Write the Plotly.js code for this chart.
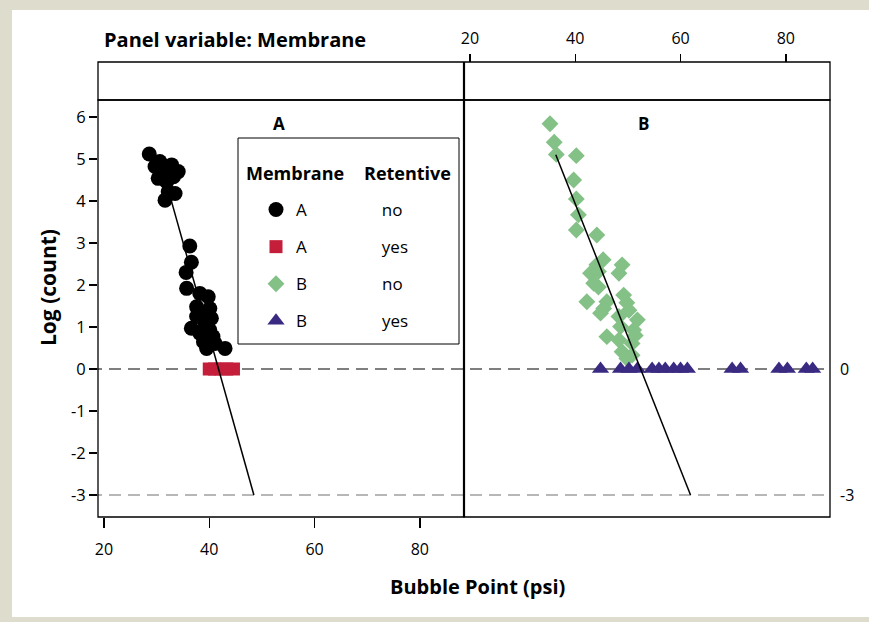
<!DOCTYPE html>
<html>
<head>
<meta charset="utf-8">
<script src="https://cdn.plot.ly/plotly-3.0.1.min.js"></script>
<style>html,body{margin:0;padding:0;background:#dedccd;}</style>
</head>
<body>
<div id="chart" style="width:869px;height:622px;"></div>
<script>
// ---- data ----
// Membrane A, Retentive = no
const aNoX = [28.6,30.6,32.85,34.1,29.7,31.3,30.3,33.2,31.9,33.5,31.6,32.2,
              36.3,36.6,35.6,35.7,38.2,39.8,37.6,40.1,38.5,40.4,37.6,39.2,36.6,40.1,38.2,40.7,39.5,43.0,41.1,38.9];
const aNoY = [5.12,4.94,4.86,4.70,4.82,4.70,4.54,4.58,4.46,4.18,4.02,4.22,
              2.93,2.54,2.30,1.92,1.80,1.72,1.48,1.44,1.33,1.21,1.25,1.09,0.97,0.93,0.85,0.77,0.49,0.49,0.61,0.65];
// Membrane A, Retentive = yes
const aYesX = [40.0,41.0,42.2,43.3,44.6];
const aYesY = [0,0,0,0,0];
// Membrane B, Retentive = no
const bNoX = [35.2,36.0,36.4,40.2,39.7,40.2,40.6,40.2,44.1,45.3,44.1,48.9,42.9,48.3,44.4,43.5,44.4,49.2,
              42.2,46.0,49.8,45.4,44.8,50.2,48.3,51.8,48.6,51.1,51.4,46.0,48.3,50.8,48.9,50.8,49.8];
const bNoY = [5.84,5.40,5.11,5.08,4.50,4.05,3.67,3.31,3.19,2.60,2.48,2.48,2.28,2.28,2.32,2.04,1.95,1.76,
              1.60,1.60,1.58,1.44,1.33,1.40,1.25,1.17,1.01,0.93,0.80,0.77,0.69,0.61,0.41,0.33,0.25];
// Membrane B, Retentive = yes
const bYesX = [44.8,48.6,50.2,51.8,54.6,55.9,57.1,58.7,60.0,61.3,69.8,71.4,78.7,80.3,83.9,85.1];
const bYesY = [0,0,0,0,0,0,0,0,0,0,0,0,0,0,0,0];
// fitted lines
const fitAX = [32.85,48.48];
const fitAY = [3.98,-3];
const fitBX = [36.3,61.9];
const fitBY = [5.1,-3];
// axis ticks
const xTicks = [20,40,60,80];
const xTickText = ['20','40','60','80'];
const yTicks = [-3,-2,-1,0,1,2,3,4,5,6];
const yTickText = ['-3','-2','-1','0','1','2','3','4','5','6'];
const refLines = [0,-3];
const refLabels = ['0','-3'];

// ---- layout helpers (pixel -> paper) ----
const L = 98, R = 830, T = 62, B = 517;
const W = 869, H = 622;
const px = x => (x - L) / (R - L);
const py = y => (B - y) / (B - T);
const stripBottom = py(100);

const FONT = '"Open Sans", "DejaVu Sans", sans-serif';
const pad = n => '\u00A0'.repeat(n);

const traces = [
  {x: aNoX, y: aNoY, xaxis:'x', yaxis:'y', type:'scatter', mode:'markers',
   name: 'A' + pad(17) + 'no', legendgroup:'g1',
   marker:{symbol:'circle', size:15, color:'#000000'}},
  {x: aYesX, y: aYesY, xaxis:'x', yaxis:'y', type:'scatter', mode:'markers',
   name: 'A' + pad(17) + 'yes', legendgroup:'g2',
   marker:{symbol:'square', size:13, color:'#c41e3a'}},
  {x: bNoX, y: bNoY, xaxis:'x2', yaxis:'y', type:'scatter', mode:'markers',
   name: 'B' + pad(17) + 'no', legendgroup:'g3',
   marker:{symbol:'diamond', size:13, color:'#84c187'}},
  {x: bYesX, y: bYesY, xaxis:'x2', yaxis:'y', type:'scatter', mode:'markers',
   name: 'B' + pad(17) + 'yes', legendgroup:'g4',
   marker:{symbol:'triangle-up', size:15, color:'#3a2a82'}},
  {x: fitAX, y: fitAY, xaxis:'x', yaxis:'y', type:'scatter', mode:'lines',
   showlegend:false, line:{color:'#000000', width:1.5}},
  {x: fitBX, y: fitBY, xaxis:'x2', yaxis:'y', type:'scatter', mode:'lines',
   showlegend:false, line:{color:'#000000', width:1.5}}
];

const shapes = [
  // white page area
  {type:'rect', xref:'paper', yref:'paper', layer:'below',
   x0: px(12), x1: px(W+2), y0: py(617), y1: py(10),
   fillcolor:'#ffffff', line:{width:0}},
  // reference lines
  {type:'line', xref:'paper', yref:'y', layer:'below', x0: px(90), x1: 1, y0: refLines[0], y1: refLines[0],
   line:{color:'#555555', width:1.5, dash:'12px,7px'}},
  {type:'line', xref:'paper', yref:'y', layer:'below', x0: px(90), x1: 1, y0: refLines[1], y1: refLines[1],
   line:{color:'#a0a0a0', width:1.5, dash:'12px,7px'}},
  // panel boxes
  {type:'rect', xref:'paper', yref:'paper', x0:0, x1:0.5, y0:0, y1:stripBottom, line:{color:'#000', width:1.3}},
  {type:'rect', xref:'paper', yref:'paper', x0:0.5, x1:1, y0:0, y1:stripBottom, line:{color:'#000', width:1.3}},
  {type:'rect', xref:'paper', yref:'paper', x0:0, x1:1, y0:stripBottom, y1:1, line:{color:'#000', width:1.3}},
  {type:'line', xref:'paper', yref:'paper', x0:0.5, x1:0.5, y0:0, y1:1, line:{color:'#000', width:2.2}},
  // legend box
  {type:'rect', xref:'paper', yref:'paper', x0: px(238), x1: px(459), y0: py(344), y1: py(138),
   line:{color:'#000', width:1}}
];

const ann = (text, x, y, opts) => Object.assign({
  text, xref:'paper', yref:'paper', x: px(x), y: py(y), showarrow:false,
  xanchor:'center', yanchor:'middle', font:{family:FONT, size:16, color:'#000'}
}, opts || {});

const annotations = [
  ann('<b>Panel variable: Membrane</b>', 102, 40, {xanchor:'left', font:{family:FONT, size:20, color:'#000'}}),
  ann('<b>A</b>', 279, 124, {font:{family:FONT, size:17, color:'#000'}}),
  ann('<b>B</b>', 643, 124, {font:{family:FONT, size:17, color:'#000'}}),
  ann('<b>Membrane</b>', 244, 173, {xanchor:'left', font:{family:FONT, size:18, color:'#000'}}),
  ann('<b>Retentive</b>', 362, 173, {xanchor:'left', font:{family:FONT, size:18, color:'#000'}}),
  ann(refLabels[0], 838, 369, {xanchor:'left'}),
  ann(refLabels[1], 838, 495, {xanchor:'left'}),
  ann('<b>Log (count)</b>', 48, 287, {textangle:-90, font:{family:FONT, size:21, color:'#000'}}),
  ann('<b>Bubble Point (psi)</b>', 477, 586, {font:{family:FONT, size:20, color:'#000'}})
];

const axBase = {
  range:[18.86, 88.4], tickvals: xTicks, ticktext: xTickText, ticks:'outside', tickwidth:1.5, tickcolor:'#000',
  showgrid:false, zeroline:false, showline:false,
  tickfont:{family:FONT, size:16, color:'#000'}
};

const layout = {
  width: W, height: H,
  margin:{l:L, r:W-R, t:T, b:H-B, pad:0},
  paper_bgcolor:'#dedccd', plot_bgcolor:'rgba(0,0,0,0)',
  showlegend:true,
  legend:{x: px(256), y: py(192), xanchor:'left', yanchor:'top',
          bgcolor:'rgba(0,0,0,0)', borderwidth:0, tracegroupgap:12,
          font:{family:FONT, size:17, color:'#000'}},
  xaxis: Object.assign({}, axBase, {domain:[0,0.5], anchor:'y', side:'bottom', ticklen:10, ticklabelstandoff:8}),
  xaxis2: Object.assign({}, axBase, {domain:[0.5,1], anchor:'free', position:1, side:'top', ticklen:8, ticklabelstandoff:4}),
  yaxis: {domain:[0, stripBottom], range:[-3.524, 6.405], anchor:'x', tickvals: yTicks, ticktext: yTickText,
          ticks:'outside', ticklen:8, tickwidth:1.5, tickcolor:'#000',
          showgrid:false, zeroline:false, showline:false,
          tickfont:{family:FONT, size:16.5, color:'#000'}},
  shapes, annotations
};

Plotly.newPlot('chart', traces, layout, {staticPlot:true, displayModeBar:false});
</script>
</body>
</html>
